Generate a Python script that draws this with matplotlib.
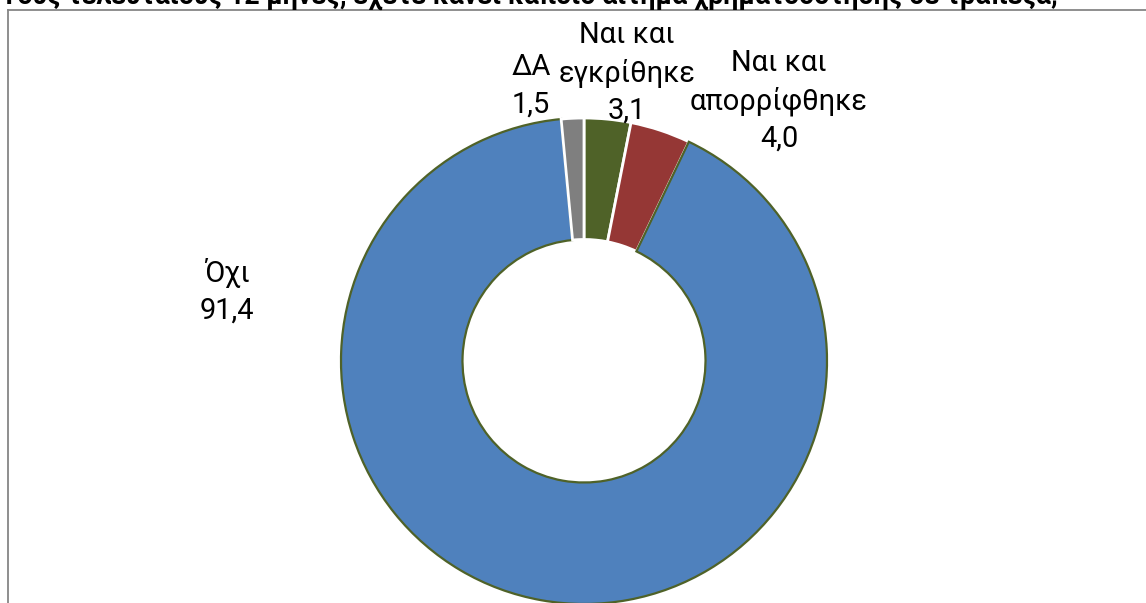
import matplotlib
matplotlib.use("Agg")
import matplotlib.pyplot as plt
from matplotlib.lines import Line2D

# ---- data ----
categories = ["Ναι και\nεγκρίθηκε", "Ναι και\nαπορρίφθηκε", "Όχι", "ΔΑ"]
values = [3.1, 4.0, 91.4, 1.5]
value_labels = ["3,1", "4,0", "91,4", "1,5"]
title = "Τους τελευταίους 12 μήνες, έχετε κάνει κάποιο αίτημα χρηματοδότησης σε τράπεζα;"

# ---- style ----
colors = ["#4F6228", "#953735", "#4F81BD", "#7F7F7F"]
edgecolors = ["white", "white", "#4F6228", "white"]
edgewidths = [2.0, 2.0, 1.6, 2.0]
FONT = ["Roboto", "DejaVu Sans"]

W, H = 1146, 603
fig = plt.figure(figsize=(W / 100, H / 100), dpi=100)
ax = fig.add_axes([0, 0, 1, 1])

def py(y):
    return H - y

cx, cy, R = 584, 361, 243
wedges, _ = ax.pie(values, colors=colors, startangle=90, counterclock=False,
                   center=(cx, py(cy)), radius=R, frame=True,
                   wedgeprops=dict(width=R * 0.5))
for w, ec, lw in zip(wedges, edgecolors, edgewidths):
    w.set_edgecolor(ec)
    w.set_linewidth(lw)
ax.set_xlim(0, W)
ax.set_ylim(0, H)
ax.set_aspect("equal")
ax.axis("off")

renderer = fig.canvas.get_renderer()

def fit_size(s, target_w, weight="normal"):
    t = fig.text(0, 0, s, fontsize=20, family=FONT, weight=weight)
    w = t.get_window_extent(renderer).width
    t.remove()
    return 20 * target_w / w

lab_fs = fit_size("απορρίφθηκε", 178)
title_fs = fit_size(title, 1052, weight="bold")

# label positions (pixel centres of first line)
label_pos = [(627, 35), (779, 63), (227, 273), (531, 67)]
line_gap = 38
for cat, vl, (x, y0) in zip(categories, value_labels, label_pos):
    lines = cat.split("\n") + [vl]
    for i, ln in enumerate(lines):
        ax.text(x, py(y0 + i * line_gap), ln, ha="center", va="center",
                fontsize=lab_fs, family=FONT, color="black")

# title (cut at top like the reference)
ax.text(1, py(4), title, ha="left", va="baseline", fontsize=title_fs,
        family=FONT, weight="bold", color="black", clip_on=False)

# frame
ax.add_line(Line2D([8, W], [py(10), py(10)], color="#868686", lw=1.3))
ax.add_line(Line2D([8, 8], [py(10), 0], color="#868686", lw=1.3))

fig.savefig("out.png", dpi=100)
